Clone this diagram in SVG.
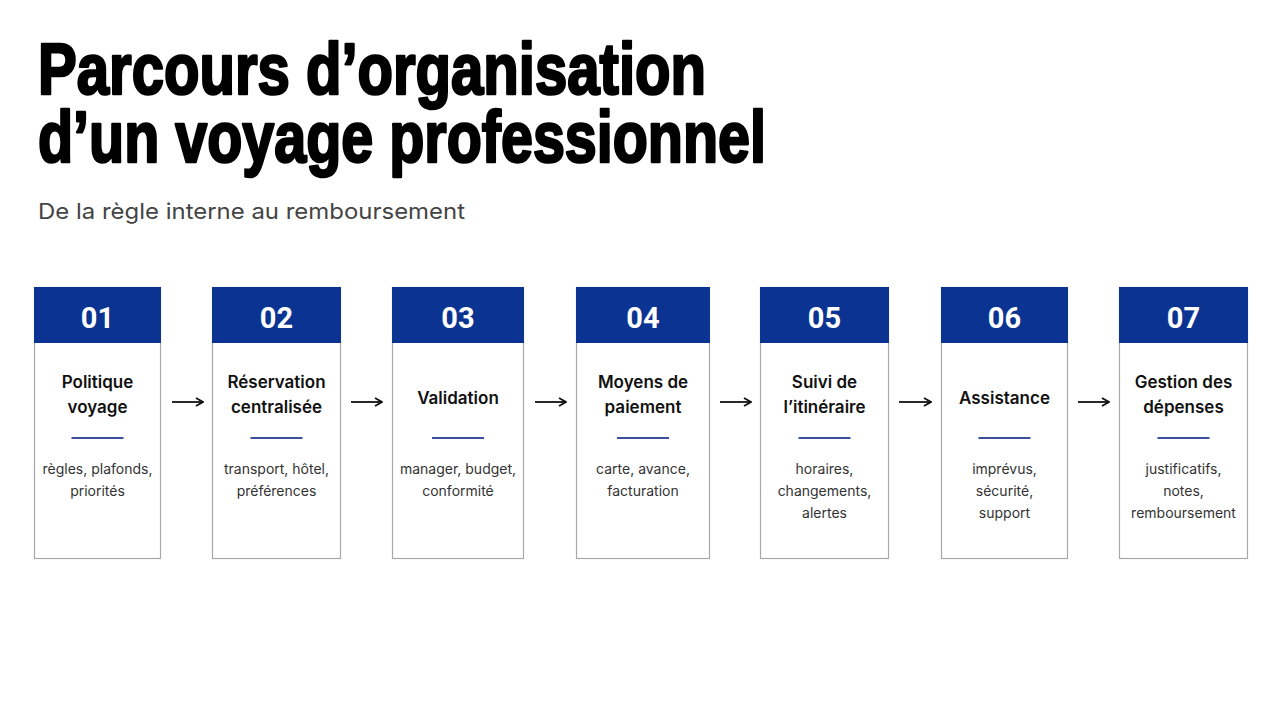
<svg xmlns="http://www.w3.org/2000/svg" width="1280" height="720" viewBox="0 0 1280 720">
<defs>
<style>
.title{font-family:"Liberation Sans",Arial,sans-serif;font-weight:700;font-size:72px;fill:#000;stroke:#000;stroke-width:2.6;stroke-linejoin:round;}
.sub{font-family:Inter,"Noto Sans",sans-serif;font-size:22px;fill:#444;}
.box{fill:#fff;stroke:#a8a8a8;stroke-width:1.2;}
.hdr{fill:#0b3391;}
.num{font-family:Roboto,"Noto Sans",sans-serif;font-weight:700;font-size:29px;fill:#fff;text-anchor:middle;}
.nm{font-family:Inter,"Noto Sans",sans-serif;font-weight:600;font-size:17px;fill:#111;text-anchor:middle;}
.ds{font-family:Inter,"Noto Sans",sans-serif;font-size:14px;fill:#333;text-anchor:middle;}
.div{stroke:#3b4f9c;stroke-width:2;}
.arr{stroke:#111;stroke-width:1.8;fill:none;}
</style>
<marker id="ah" viewBox="0 0 10 10" refX="9" refY="5" markerWidth="10" markerHeight="10" markerUnits="userSpaceOnUse" orient="auto">
<path d="M2,1 L9,5 L2,9" fill="none" stroke="#111" stroke-width="1.8"/>
</marker>
</defs>
<rect width="1280" height="720" fill="#fff"/>
<text class="title" x="38" y="94" textLength="668" lengthAdjust="spacingAndGlyphs">Parcours d’organisation</text>
<text class="title" x="38" y="162" textLength="728" lengthAdjust="spacingAndGlyphs">d’un voyage professionnel</text>
<text class="sub" x="38" y="219" textLength="427" lengthAdjust="spacingAndGlyphs">De la règle interne au remboursement</text>

<g id="connectors">
<line class="arr" x1="172" y1="402" x2="203" y2="402" marker-end="url(#ah)"/>
<line class="arr" x1="351" y1="402" x2="382" y2="402" marker-end="url(#ah)"/>
<line class="arr" x1="535" y1="402" x2="566" y2="402" marker-end="url(#ah)"/>
<line class="arr" x1="720" y1="402" x2="751" y2="402" marker-end="url(#ah)"/>
<line class="arr" x1="899" y1="402" x2="931" y2="402" marker-end="url(#ah)"/>
<line class="arr" x1="1078" y1="402" x2="1109" y2="402" marker-end="url(#ah)"/>
</g>

<g id="step01">
<rect class="box" x="34.5" y="287.5" width="126" height="271"/>
<rect class="hdr" x="34" y="287" width="127" height="56"/>
<text class="num" x="97.5" y="328">01</text>
<text class="nm" x="97.5" y="388">Politique</text>
<text class="nm" x="97.5" y="413">voyage</text>
<line class="div" x1="71.5" y1="438" x2="123.5" y2="438"/>
<text class="ds" x="97.5" y="474">règles, plafonds,</text>
<text class="ds" x="97.5" y="496">priorités</text>
</g>

<g id="step02">
<rect class="box" x="212.5" y="287.5" width="128" height="271"/>
<rect class="hdr" x="212" y="287" width="129" height="56"/>
<text class="num" x="276.5" y="328">02</text>
<text class="nm" x="276.5" y="388">Réservation</text>
<text class="nm" x="276.5" y="413">centralisée</text>
<line class="div" x1="250.5" y1="438" x2="302.5" y2="438"/>
<text class="ds" x="276.5" y="474">transport, hôtel,</text>
<text class="ds" x="276.5" y="496">préférences</text>
</g>

<g id="step03">
<rect class="box" x="392.5" y="287.5" width="131" height="271"/>
<rect class="hdr" x="392" y="287" width="132" height="56"/>
<text class="num" x="458" y="328">03</text>
<text class="nm" x="458" y="404">Validation</text>
<line class="div" x1="432" y1="438" x2="484" y2="438"/>
<text class="ds" x="458" y="474">manager, budget,</text>
<text class="ds" x="458" y="496">conformité</text>
</g>

<g id="step04">
<rect class="box" x="576.5" y="287.5" width="133" height="271"/>
<rect class="hdr" x="576" y="287" width="134" height="56"/>
<text class="num" x="643" y="328">04</text>
<text class="nm" x="643" y="388">Moyens de</text>
<text class="nm" x="643" y="413">paiement</text>
<line class="div" x1="617" y1="438" x2="669" y2="438"/>
<text class="ds" x="643" y="474">carte, avance,</text>
<text class="ds" x="643" y="496">facturation</text>
</g>

<g id="step05">
<rect class="box" x="760.5" y="287.5" width="128" height="271"/>
<rect class="hdr" x="760" y="287" width="129" height="56"/>
<text class="num" x="824.5" y="328">05</text>
<text class="nm" x="824.5" y="388">Suivi de</text>
<text class="nm" x="824.5" y="413">l’itinéraire</text>
<line class="div" x1="798.5" y1="438" x2="850.5" y2="438"/>
<text class="ds" x="824.5" y="474">horaires,</text>
<text class="ds" x="824.5" y="496">changements,</text>
<text class="ds" x="824.5" y="518">alertes</text>
</g>

<g id="step06">
<rect class="box" x="941.5" y="287.5" width="126" height="271"/>
<rect class="hdr" x="941" y="287" width="127" height="56"/>
<text class="num" x="1004.5" y="328">06</text>
<text class="nm" x="1004.5" y="404">Assistance</text>
<line class="div" x1="978.5" y1="438" x2="1030.5" y2="438"/>
<text class="ds" x="1004.5" y="474">imprévus,</text>
<text class="ds" x="1004.5" y="496">sécurité,</text>
<text class="ds" x="1004.5" y="518">support</text>
</g>

<g id="step07">
<rect class="box" x="1119.5" y="287.5" width="128" height="271"/>
<rect class="hdr" x="1119" y="287" width="129" height="56"/>
<text class="num" x="1183.5" y="328">07</text>
<text class="nm" x="1183.5" y="388">Gestion des</text>
<text class="nm" x="1183.5" y="413">dépenses</text>
<line class="div" x1="1157.5" y1="438" x2="1209.5" y2="438"/>
<text class="ds" x="1183.5" y="474">justificatifs,</text>
<text class="ds" x="1183.5" y="496">notes,</text>
<text class="ds" x="1183.5" y="518">remboursement</text>
</g>
</svg>
